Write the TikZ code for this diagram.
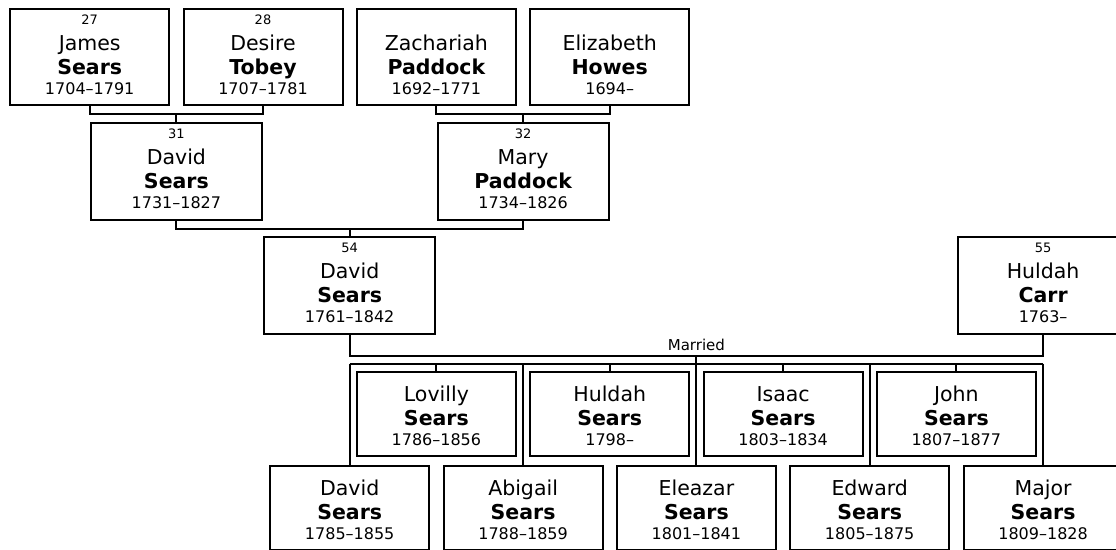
\documentclass[tikz,border=0pt]{standalone}
\usepackage{fontspec}
\setmainfont{DejaVu Sans}

% one card: number, first name, family name, years
\newcommand{\ancestor}[4]{{\fontsize{13}{16}\selectfont\vphantom{0}#1}\\[6pt]{\fontsize{20.5}{24}\selectfont #2}\\[4pt]{\fontsize{20.5}{24}\selectfont\bfseries #3}\\{\fontsize{16}{20}\selectfont #4}}
\newcommand{\kid}[3]{{\fontsize{20.5}{24}\selectfont #1}\\[4pt]{\fontsize{20.5}{24}\selectfont\bfseries #2}\\{\fontsize{16}{20}\selectfont #3}}

\tikzset{
  person/.style={draw, line width=2pt, align=center, inner sep=0pt,
    minimum width=159pt, text height=85.5pt, text depth=11pt,
    font=\fontsize{16}{20}\selectfont},
  wideperson/.style={person, minimum width=171pt},
  kidperson/.style={person, text height=73pt, text depth=11pt},
  link/.style={line width=2pt}
}

\begin{document}
\begin{tikzpicture}[x=1pt, y=-1pt]
    \useasboundingbox (0,0) rectangle (1116,549);

    % Great-grandparents
    \node[person] (james)   at (89.7,56.75)  {\ancestor{27}{James}{Sears}{1704–1791}};
    \node[person] (desire)  at (263.0,56.75) {\ancestor{28}{Desire}{Tobey}{1707–1781}};
    \node[person] (zach)    at (436.4,56.75) {\ancestor{}{Zachariah}{Paddock}{1692–1771}};
    \node[person] (eliz)    at (609.7,56.75) {\ancestor{}{Elizabeth}{Howes}{1694–}};

    % Grandparents
    \node[wideperson] (david31) at (176.4,171.3) {\ancestor{31}{David}{Sears}{1731–1827}};
    \node[wideperson] (mary)    at (523.1,171.3) {\ancestor{32}{Mary}{Paddock}{1734–1826}};

    % Parents
    \node[wideperson] (david54) at (349.7,285.3)  {\ancestor{54}{David}{Sears}{1761–1842}};
    \node[wideperson] (huldah)  at (1043.1,285.3) {\ancestor{55}{Huldah}{Carr}{1763–}};

    % Children, upper row
    \node[kidperson] (lovilly)  at (436.4,414) {\kid{Lovilly}{Sears}{1786–1856}};
    \node[kidperson] (huldahs)  at (609.7,414) {\kid{Huldah}{Sears}{1798–}};
    \node[kidperson] (isaac)    at (783.1,414) {\kid{Isaac}{Sears}{1803–1834}};
    \node[kidperson] (john)     at (956.4,414) {\kid{John}{Sears}{1807–1877}};

    % Children, lower row
    \node[kidperson] (davidj)   at (349.7,508)  {\kid{David}{Sears}{1785–1855}};
    \node[kidperson] (abigail)  at (523.1,508)  {\kid{Abigail}{Sears}{1788–1859}};
    \node[kidperson] (eleazar)  at (696.4,508)  {\kid{Eleazar}{Sears}{1801–1841}};
    \node[kidperson] (edward)   at (869.7,508)  {\kid{Edward}{Sears}{1805–1875}};
    \node[kidperson] (major)    at (1043.1,508) {\kid{Major}{Sears}{1809–1828}};

    % Couples and their child
    \coordinate (c1) at (176.4,113.5);
    \coordinate (c2) at (523.1,113.5);
    \coordinate (c3) at (349.7,228.5);
    \draw[link] (james.south) |- (c1) -| (desire.south);
    \draw[link] (c1) -- (david31.north);
    \draw[link] (zach.south) |- (c2) -| (eliz.south);
    \draw[link] (c2) -- (mary.north);
    \draw[link] (david31.south) |- (c3) -| (mary.south);
    \draw[link] (c3) -- (david54.north);

    % Marriage and children
    \coordinate (wed) at (696.4,356);
    \coordinate (kids) at (696.4,363.5);
    \draw[link] (david54.south) |- (wed) -| (huldah.south);
    \node[font=\fontsize{15}{18}\selectfont, anchor=base] (married) at (696.4,350.7) {Married};
    \draw[link] (wed) -- (kids);
    \draw[link] (davidj.north |- kids) -- (major.north |- kids);
    \foreach \k in {lovilly,huldahs,isaac,john,davidj,abigail,eleazar,edward,major}
        \draw[link] (\k.north |- kids) -- (\k.north);
\end{tikzpicture}
\end{document}
